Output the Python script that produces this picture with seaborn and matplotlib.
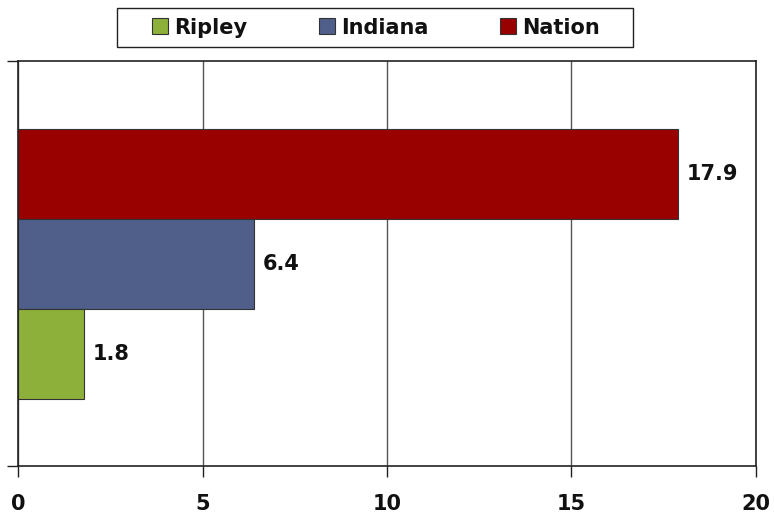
import matplotlib
matplotlib.use("Agg")
import matplotlib.pyplot as plt
import pandas as pd
import seaborn as sns
from matplotlib.patches import Patch, Rectangle

# Data
regions = ["Nation", "Indiana", "Ripley"]
values = [17.9, 6.4, 1.8]
colors = ["#990000", "#4F5F8A", "#8DB03A"]
legend_order = ["Ripley", "Indiana", "Nation"]
x_ticks = [0, 5, 10, 15, 20]

df = pd.DataFrame({"group": [""] * len(regions), "region": regions, "value": values})
palette = dict(zip(regions, colors))

sns.set_theme(style="white")
plt.rcParams["font.family"] = ["DejaVu Sans"]

fig = plt.figure(figsize=(7.74, 5.2), dpi=100)
ax = fig.add_axes([0.0233, 0.1038, 0.9534, 0.7789])

sns.barplot(
    data=df, x="value", y="group", hue="region", hue_order=regions,
    palette=palette, orient="h", width=2 / 3, saturation=1,
    edgecolor="#333333", linewidth=0.8, legend=False, ax=ax,
)

for c in ax.containers:
    ax.bar_label(c, fmt="%.1f", padding=6, fontsize=15, fontweight="bold", color="#111111")

ax.set_xlim(0, 20)
ax.set_ylim(0.5, -0.5)
ax.set_xticks(x_ticks)
ax.set_xticklabels([str(t) for t in x_ticks], fontsize=15, fontweight="bold", color="#111111")
ax.set_yticks([-0.5, 0.5])
ax.set_yticklabels([])
ax.set_xlabel("")
ax.set_ylabel("")
ax.tick_params(axis="x", direction="out", length=8, width=1, color="#222222", pad=12, bottom=True)
ax.tick_params(axis="y", direction="out", length=8, width=1, color="#222222", left=True)
ax.grid(axis="x", color="#555555", linewidth=1)
ax.set_axisbelow(True)
for side in ["left", "bottom", "top", "right"]:
    ax.spines[side].set_visible(True)
    ax.spines[side].set_color("#222222")
    ax.spines[side].set_linewidth(1.2)

# legend without its own frame, boxed by a wider rectangle like the original
handles = [Patch(facecolor=palette[r], edgecolor="#333333", linewidth=0.8) for r in legend_order]
fig.legend(
    handles, legend_order, loc="center", bbox_to_anchor=(0.4858, 0.947), ncol=3,
    frameon=False, prop={"weight": "bold", "size": 15}, labelcolor="#111111",
    handlelength=0.8, handleheight=0.8, handletextpad=0.3,
    columnspacing=3.4, borderpad=0.35, borderaxespad=0,
)
fig.patches.append(Rectangle(
    (117 / 774, 1 - 47 / 520), 516 / 774, 39 / 520, transform=fig.transFigure,
    fill=False, edgecolor="#222222", linewidth=1.0,
))

fig.savefig("out.png", dpi=100)
